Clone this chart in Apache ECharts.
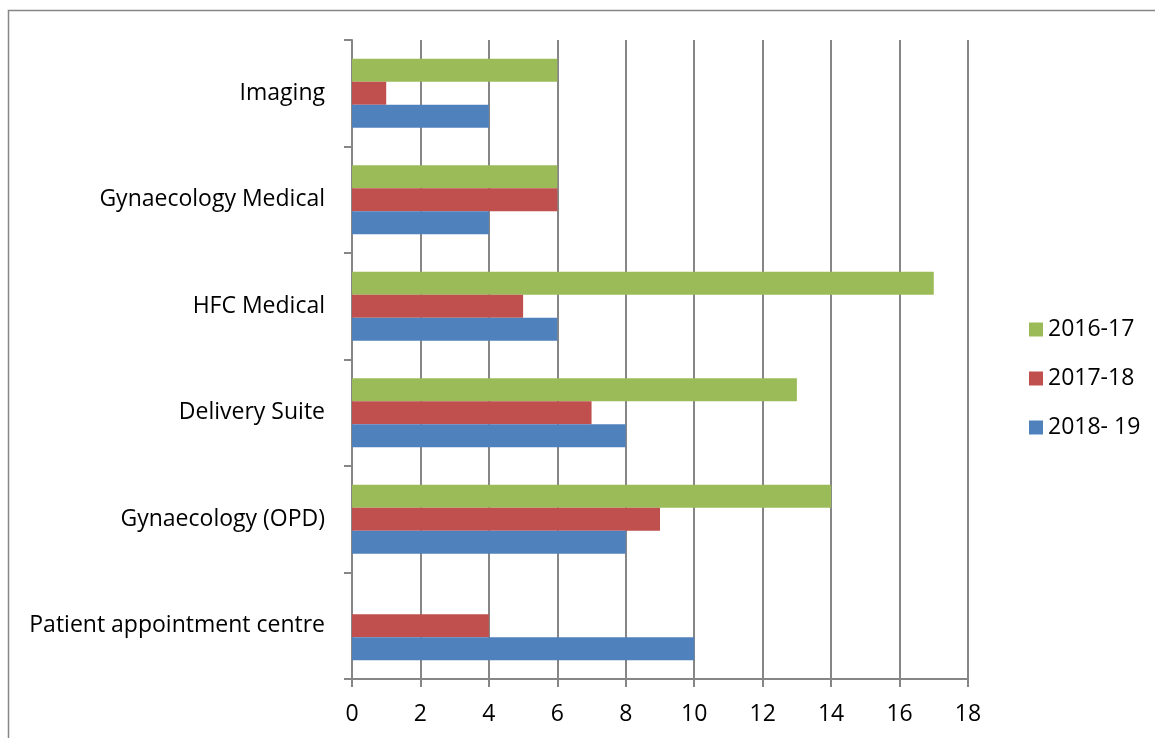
<!DOCTYPE html>
<html>
<head>
<meta charset="utf-8">
<script src="https://cdn.jsdelivr.net/npm/echarts@6/dist/echarts.min.js"></script>
<style>
  html, body { margin: 0; padding: 0; background: #fff; }
  #chart { width: 1155px; height: 738px; }
</style>
</head>
<body>
<div id="chart"></div>
<script>
var categories = ['Patient appointment centre', 'Gynaecology (OPD)', 'Delivery Suite', 'HFC Medical', 'Gynaecology Medical', 'Imaging'];
var seriesNames = ['2016-17', '2017-18', '2018- 19'];
var values1617 = [0, 14, 13, 17, 6, 6];
var values1718 = [4, 9, 7, 5, 6, 1];
var values1819 = [10, 8, 8, 6, 4, 4];
var xTicks = { min: 0, max: 18, interval: 2 };

var chart = echarts.init(document.getElementById('chart'), null, { renderer: 'canvas' });
var font = 'Open Sans';
var gray = '#868686';

var option = {
  backgroundColor: '#ffffff',
  color: ['#9BBB59', '#C0504D', '#4F81BD'],
  animation: false,
  graphic: [{
    type: 'rect',
    shape: { x: 8.5, y: 10.5, width: 1160, height: 740 },
    style: { fill: 'none', stroke: gray, lineWidth: 1.5 },
    silent: true
  }],
  legend: {
    orient: 'vertical',
    left: 1024,
    top: 313,
    itemWidth: 14,
    itemHeight: 14,
    itemGap: 26,
    icon: 'rect',
    data: seriesNames,
    textStyle: { fontFamily: font, fontSize: 23, color: '#000' }
  },
  grid: {
    left: 352,
    right: 187,
    top: 40,
    bottom: 59,
    containLabel: false
  },
  xAxis: {
    type: 'value',
    min: xTicks.min,
    max: xTicks.max,
    interval: xTicks.interval,
    axisLine: { show: true, lineStyle: { color: gray, width: 2 } },
    axisTick: { show: true, length: 8, lineStyle: { color: gray, width: 2 } },
    splitLine: { show: true, lineStyle: { color: gray, width: 2 } },
    axisLabel: { fontFamily: font, fontSize: 23, color: '#000', margin: 24 }
  },
  yAxis: {
    type: 'category',
    data: categories,
    axisLine: { show: true, lineStyle: { color: gray, width: 2 } },
    axisTick: { show: true, length: 8, lineStyle: { color: gray, width: 2 } },
    axisLabel: { fontFamily: font, fontSize: 23, color: '#000', margin: 27 }
  },
  series: [
    { name: seriesNames[0], type: 'bar', data: values1617, barGap: '0%', barCategoryGap: '35%' },
    { name: seriesNames[1], type: 'bar', data: values1718, barGap: '0%', barCategoryGap: '35%' },
    { name: seriesNames[2], type: 'bar', data: values1819, barGap: '0%', barCategoryGap: '35%' }
  ]
};
chart.setOption(option);
</script>
</body>
</html>
